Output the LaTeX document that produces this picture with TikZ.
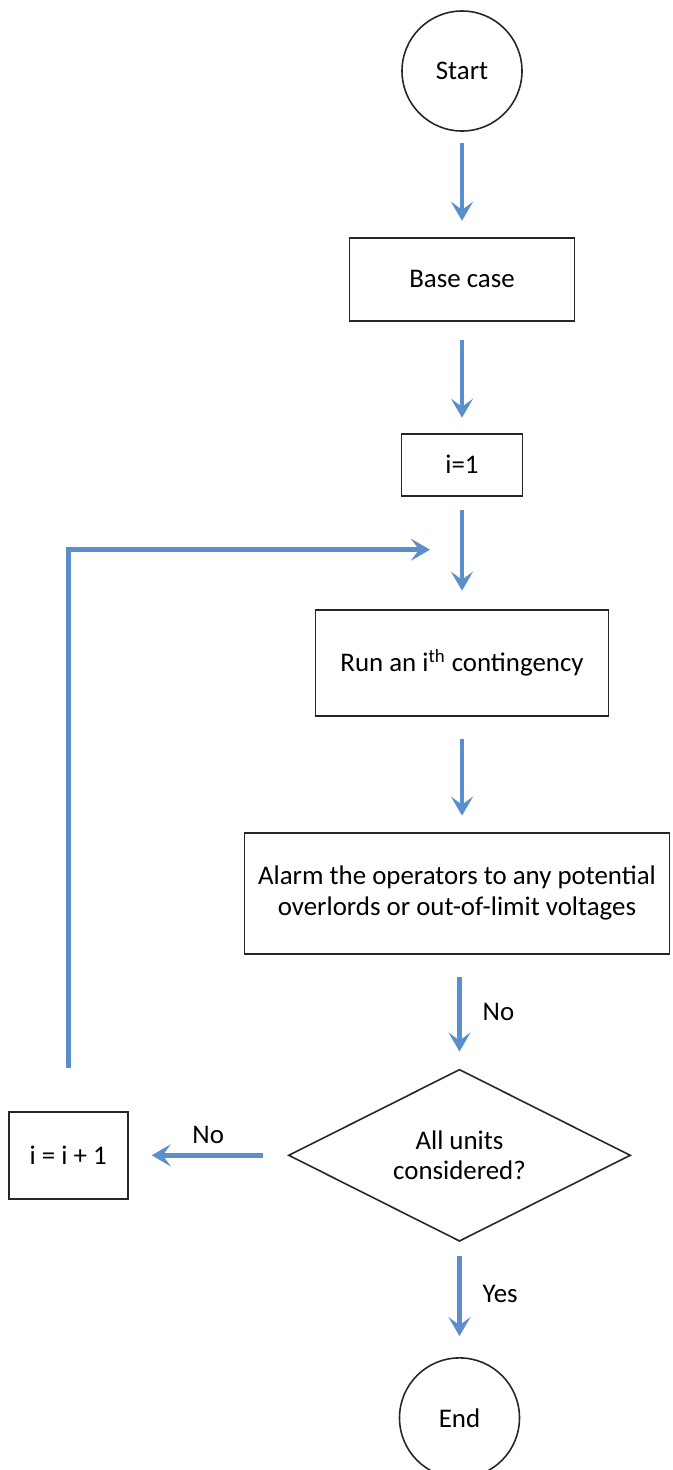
\documentclass[tikz,border=0pt]{standalone}
\usepackage{fontspec}
\setmainfont{Carlito}
\usetikzlibrary{arrows.meta,positioning,shapes.geometric}
\definecolor{Flow}{HTML}{5B8FCB}
\definecolor{Edge}{HTML}{262626}
\tikzset{
  terminal/.style={
    circle, draw=Edge, line width=0.9pt, minimum size=2.4cm, inner sep=0pt
  },
  process/.style={
    rectangle, draw=Edge, line width=1.1pt, inner sep=0pt, align=center
  },
  decision/.style={
    diamond, aspect=2, draw=Edge, line width=0.9pt, inner sep=0pt, align=center,
    minimum width=6.84cm, minimum height=3.44cm
  },
  flow/.style={-{Stealth[length=0.38cm,width=0.44cm,inset=0.16cm]}, line width=2.6pt, draw=Flow}
}

\begin{document}
\begin{tikzpicture}[every node/.style={font=\fontsize{15.3}{17.5}\selectfont}]
    \useasboundingbox (0,0) rectangle (13.44,-29.4);
    \node[terminal] (start) at (9.24,-1.42) {Start};
    \node[process,below=2.1cm of start,minimum width=4.5cm,minimum height=1.66cm] (base) {Base case};
    \node[process,below=2.22cm of base,minimum width=2.42cm,minimum height=1.24cm] (init) {i=1};
    \node[process,below=2.24cm of init,minimum width=5.86cm,minimum height=2.12cm] (run) {Run an i\textsuperscript{th} contingency};
    \node[process,below=2.3cm of run,xshift=-0.1cm,minimum width=8.5cm,minimum height=2.42cm] (alarm)
      {Alarm the operators to any potential\\overlords or out-of-limit voltages};
    \node[decision,below=2.28cm of alarm,xshift=0.05cm] (check) {All units\\considered?};
    \node[process,left=3.18cm of check,minimum width=2.38cm,minimum height=1.74cm] (incr) {i = i + 1};
    \node[terminal,below=2.3cm of check] (finish) {End};
    \coordinate[below=1.06cm of init] (merge);
    \draw[flow,shorten <=0.22cm,shorten >=0.32cm] (start)--(base);
    \draw[flow,shorten <=0.36cm,shorten >=0.3cm] (base)--(init);
    \draw[flow,shorten <=0.26cm,shorten >=0.36cm] (init)--(run);
    \draw[flow,shorten <=0.44cm,shorten >=0.32cm] (run)--(alarm.north -| run);
    \draw[flow,shorten <=0.44cm,shorten >=0.34cm] (alarm.south -| check)--(check)
      node[midway,right=0.3cm,text=black] {No};
    \draw[flow,shorten <=0.5cm,shorten >=0.46cm] (check)--(incr)
      node[midway,above=0.08cm,text=black] {No};
    \draw[flow,shorten <=0.28cm,shorten >=0.42cm] (check)--(finish)
      node[pos=0.45,right=0.3cm,text=black] {Yes};
    \draw[flow,shorten <=0.86cm,shorten >=0.64cm] (incr.north) |- (merge);
  \end{tikzpicture}
\end{document}
